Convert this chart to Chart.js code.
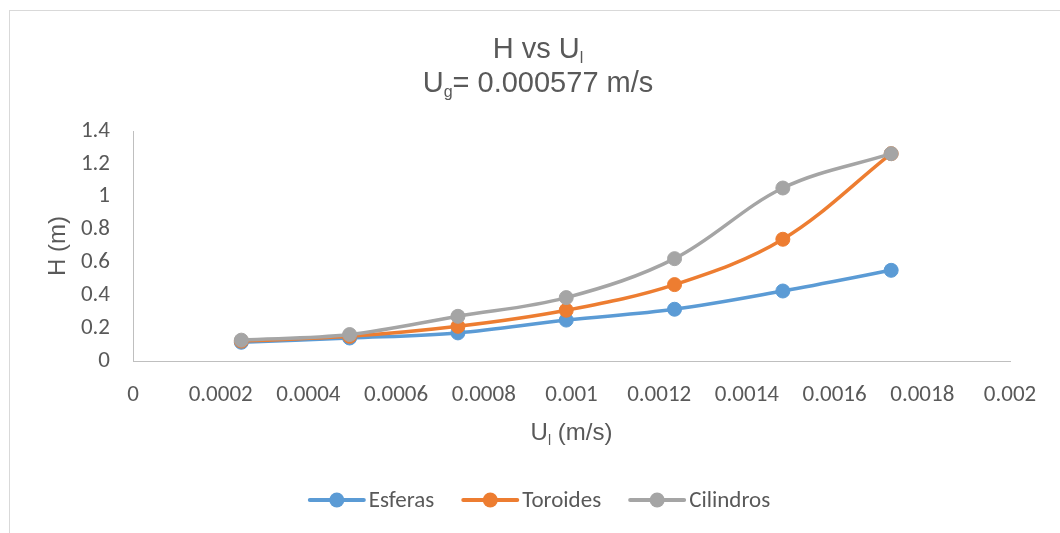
<!DOCTYPE html>
<html>
<head>
<meta charset="utf-8">
<script src="https://cdn.jsdelivr.net/npm/chart.js@4.4.1/dist/chart.umd.min.js"></script>
<style>
  html, body { margin: 0; padding: 0; background: #fff; }
  #caja { width: 1060px; height: 533px; }
</style>
</head>
<body>
<div id="caja"><canvas id="graficoH" width="1060" height="533"></canvas></div>
<script>
// Velocidad superficial del líquido (m/s)
const ul = [0.000247, 0.000494, 0.000741, 0.000988, 0.001235, 0.001482, 0.001729];

// Altura H (m) por tipo de empaque
const esferas   = [0.114, 0.140, 0.171, 0.249, 0.315, 0.426, 0.552];
const toroides  = [0.121, 0.150, 0.211, 0.309, 0.465, 0.741, 1.262];
const cilindros = [0.127, 0.161, 0.272, 0.386, 0.623, 1.053, 1.262];

const nombres = ['Esferas', 'Toroides', 'Cilindros'];
const colores = ['#5B9BD5', '#ED7D31', '#A5A5A5'];

// Marcas de los ejes
const ticksX = [0, 0.0002, 0.0004, 0.0006, 0.0008, 0.001, 0.0012, 0.0014, 0.0016, 0.0018, 0.002];
const etiquetasX = ['0', '0.0002', '0.0004', '0.0006', '0.0008', '0.001', '0.0012', '0.0014', '0.0016', '0.0018', '0.002'];
const ticksY = [0, 0.2, 0.4, 0.6, 0.8, 1, 1.2, 1.4];
const etiquetasY = ['0', '0.2', '0.4', '0.6', '0.8', '1', '1.2', '1.4'];

const fuenteEje = '"Carlito", Lato, sans-serif';
const fuenteTit = '"Liberation Sans", Arial, sans-serif';
const gris = '#595959';

function puntos(ys) {
  return ul.map((x, i) => ({ x: x, y: ys[i] }));
}

// texto con subíndices: partes = [[texto, esSub], ...]
function textoSub(ctx, partes, cx, base, tam, tamSub) {
  let ancho = 0;
  partes.forEach(p => {
    ctx.font = (p[1] ? tamSub : tam) + 'px ' + fuenteTit;
    ancho += ctx.measureText(p[0]).width;
  });
  let x = cx - ancho / 2;
  ctx.textAlign = 'left';
  ctx.textBaseline = 'alphabetic';
  partes.forEach(p => {
    ctx.font = (p[1] ? tamSub : tam) + 'px ' + fuenteTit;
    ctx.fillText(p[0], x, p[1] ? base + 5 : base);
    x += ctx.measureText(p[0]).width;
  });
}

const extras = {
  id: 'extras',
  beforeDraw(chart) {
    const ctx = chart.ctx;
    ctx.save();
    ctx.strokeStyle = '#D9D9D9';
    ctx.lineWidth = 1;
    ctx.strokeRect(9.5, 10.5, 1080, 560);
    ctx.restore();
  },
  afterDraw(chart) {
    const ctx = chart.ctx;
    const a = chart.chartArea;
    ctx.save();
    ctx.fillStyle = gris;

    // título
    textoSub(ctx, [['H vs U', false], ['l', true]], 538, 58, 29, 16);
    textoSub(ctx, [['U', false], ['g', true], ['= 0.000577 m/s', false]], 538, 92, 29, 16);

    // título eje x
    textoSub(ctx, [['U', false], ['l', true], [' (m/s)', false]], (a.left + a.right) / 2, 440, 24, 14);

    // título eje y
    ctx.translate(65, (a.top + a.bottom) / 2);
    ctx.rotate(-Math.PI / 2);
    ctx.font = '24px ' + fuenteTit;
    ctx.textAlign = 'center';
    ctx.textBaseline = 'alphabetic';
    ctx.fillText('H (m)', 0, 0);
    ctx.restore();

    // leyenda
    ctx.save();
    ctx.font = '23px ' + fuenteEje;
    const largo = 54, hueco = 5, sep = 29, yl = 500;
    const anchos = nombres.map(n => ctx.measureText(n).width);
    let total = 0;
    anchos.forEach((w, i) => { total += largo + hueco + w + (i < anchos.length - 1 ? sep : 0); });
    let x = 540 - total / 2;
    nombres.forEach((n, i) => {
      ctx.strokeStyle = colores[i];
      ctx.lineWidth = 4;
      ctx.lineCap = 'round';
      ctx.beginPath();
      ctx.moveTo(x, yl);
      ctx.lineTo(x + largo, yl);
      ctx.stroke();
      ctx.fillStyle = colores[i];
      ctx.beginPath();
      ctx.arc(x + largo / 2, yl, 7.5, 0, Math.PI * 2);
      ctx.fill();
      ctx.fillStyle = gris;
      ctx.textAlign = 'left';
      ctx.textBaseline = 'middle';
      ctx.fillText(n, x + largo + hueco, yl + 1);
      x += largo + hueco + anchos[i] + sep;
    });
    ctx.restore();
  }
};

const series = [esferas, toroides, cilindros];

new Chart(document.getElementById('graficoH'), {
  type: 'scatter',
  data: {
    datasets: series.map((s, i) => ({
      label: nombres[i],
      data: puntos(s),
      showLine: true,
      borderColor: colores[i],
      backgroundColor: colores[i],
      borderWidth: 3.5,
      tension: 0.35,
      pointRadius: 7,
      pointBorderWidth: 1,
      pointBorderColor: colores[i],
      order: 2 - i
    }))
  },
  options: {
    responsive: false,
    animation: false,
    layout: { padding: { top: 131, right: 50, bottom: 0, left: 0 } },
    plugins: {
      legend: { display: false },
      title: { display: false },
      tooltip: { enabled: false }
    },
    scales: {
      x: {
        type: 'linear',
        min: 0,
        max: 0.002,
        afterBuildTicks: s => { s.ticks = ticksX.map(v => ({ value: v })); },
        afterFit: s => { s.height = 172; },
        grid: { display: false, drawTicks: false },
        border: { display: true, color: '#BFBFBF', width: 1 },
        ticks: {
          padding: 20,
          color: gris,
          font: { family: fuenteEje, size: 23 },
          maxRotation: 0,
          autoSkip: false,
          callback: (v, i) => etiquetasX[i]
        }
      },
      y: {
        type: 'linear',
        min: 0,
        max: 1.4,
        afterBuildTicks: s => { s.ticks = ticksY.map(v => ({ value: v })); },
        afterFit: s => { s.width = 133; },
        grid: { display: false, drawTicks: false },
        border: { display: true, color: '#BFBFBF', width: 1 },
        ticks: {
          padding: 23,
          color: gris,
          font: { family: fuenteEje, size: 23 },
          autoSkip: false,
          callback: (v, i) => etiquetasY[i]
        }
      }
    }
  },
  plugins: [extras]
});
</script>
</body>
</html>
